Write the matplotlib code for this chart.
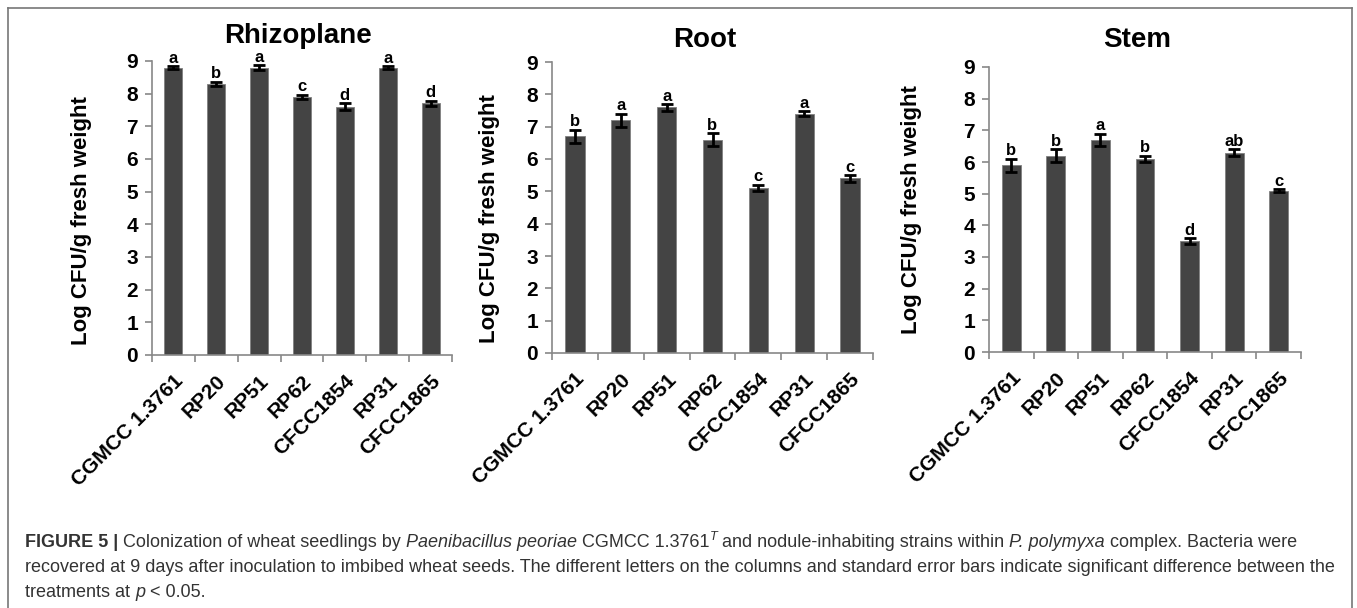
import matplotlib
matplotlib.use("Agg")
import matplotlib.pyplot as plt
from matplotlib.lines import Line2D

plt.rcParams['font.family'] = ['Liberation Sans', 'DejaVu Sans']

# données
souches = ["CGMCC 1.3761", "RP20", "RP51", "RP62", "CFCC1854", "RP31", "CFCC1865"]

rhizo_val = [8.8, 8.3, 8.8, 7.9, 7.6, 8.8, 7.7]
rhizo_err = [0.04, 0.07, 0.07, 0.07, 0.10, 0.04, 0.08]
rhizo_let = ["a", "b", "a", "c", "d", "a", "d"]

root_val = [6.7, 7.2, 7.6, 6.6, 5.1, 7.4, 5.4]
root_err = [0.20, 0.20, 0.10, 0.20, 0.10, 0.07, 0.10]
root_let = ["b", "a", "a", "b", "c", "a", "c"]

stem_val = [5.9, 6.2, 6.7, 6.1, 3.5, 6.3, 5.1]
stem_err = [0.20, 0.20, 0.20, 0.10, 0.10, 0.10, 0.04]
stem_let = ["b", "b", "a", "b", "d", "ab", "c"]

W, H = 1357, 608
fig = plt.figure(figsize=(W / 100, H / 100), dpi=100)

# cadre gris (haut, gauche, droite)
for xs, ys in [([8, 8], [608, 8]), ([8, 1352], [8, 8]), ([1352, 1352], [8, 608])]:
    fig.add_artist(Line2D([x / W for x in xs], [1 - y / H for y in ys],
                          color="#777777", lw=1.2))


def panneau(left, right, top, bottom, titre, tx, ty, vals, errs, lettres, ylx, yly):
    ax = fig.add_axes([left / W, 1 - bottom / H, (right - left) / W, (bottom - top) / H])
    x = range(len(vals))
    ax.bar(x, vals, width=0.42, color="#444444", edgecolor="#808080", linewidth=0.6,
           zorder=2)
    ax.errorbar(x, vals, yerr=errs, fmt="none", ecolor="black", elinewidth=2,
                capsize=4, capthick=2, zorder=3)
    # lettres de significativité juste au-dessus des barres d'erreur
    for i, (v, e, l) in enumerate(zip(vals, errs, lettres)):
        ax.annotate(l, (i, v + e), xytext=(0, 2.5), textcoords="offset points",
                    ha="center", va="baseline", fontsize=12, fontweight="bold",
                    annotation_clip=False)
    ax.set_xlim(-0.5, len(vals) - 0.5)
    ax.set_ylim(0, 9)
    ax.set_yticks(range(10))
    ax.set_xticks([i - 0.5 for i in range(len(vals) + 1)])
    ax.set_xticklabels([])
    ax.set_xticks(list(x), minor=True)
    ax.set_xticklabels(souches, minor=True, rotation=45, ha="right",
                       rotation_mode="anchor", fontsize=15, fontweight="bold")
    ax.tick_params(axis="x", which="minor", length=0, pad=12)
    ax.tick_params(axis="x", which="major", length=5, width=1.2, color="#888888")
    ax.tick_params(axis="y", length=5, width=1.2, color="#888888", labelsize=15, pad=5)
    for lab in ax.get_yticklabels():
        lab.set_fontweight("bold")
    for s in ["top", "right"]:
        ax.spines[s].set_visible(False)
    for s in ["left", "bottom"]:
        ax.spines[s].set_color("#888888")
        ax.spines[s].set_linewidth(1.2)
    fig.text(tx / W, 1 - ty / H, titre, ha="center", va="center", fontsize=20,
             fontweight="bold")
    fig.text(ylx / W, 1 - yly / H, "Log CFU/g fresh weight", rotation=90,
             ha="center", va="center", fontsize=16, fontweight="bold")
    return ax


panneau(152, 452, 61, 355, "Rhizoplane", 298, 36, rhizo_val, rhizo_err, rhizo_let, 82, 221)
panneau(552, 873, 62, 353, "Root", 705, 40, root_val, root_err, root_let, 490, 219)
panneau(989, 1301, 67, 352, "Stem", 1137, 40, stem_val, stem_err, stem_let, 911, 210)

# légende (texte en plusieurs morceaux pour gras / italique)
rend = fig.canvas.get_renderer()
taille = 13


def ligne(y, morceaux):
    x = 25
    for txt, st in morceaux:
        kw = dict(fontsize=taille, color="#333333", va="baseline")
        if st == "b":
            kw["fontweight"] = "bold"
        elif st == "i":
            kw["fontstyle"] = "italic"
        elif st == "sup":
            kw["fontstyle"] = "italic"
            kw["fontsize"] = taille * 0.7
        yy = y - 7 if st == "sup" else y
        t = fig.text(x / W, 1 - yy / H, txt, **kw)
        x += t.get_window_extent(rend).width


ligne(547, [("FIGURE 5 | ", "b"), ("Colonization of wheat seedlings by ", ""),
            ("Paenibacillus peoriae", "i"), (" CGMCC 1.3761", ""), ("T", "sup"),
            (" and nodule-inhabiting strains within ", ""), ("P. polymyxa", "i"),
            (" complex. Bacteria were", "")])
ligne(572, [("recovered at 9 days after inoculation to imbibed wheat seeds. The different "
             "letters on the columns and standard error bars indicate significant "
             "difference between the", "")])
ligne(597, [("treatments at ", ""), ("p", "i"), (" < 0.05.", "")])

fig.savefig("out.png", dpi=100)
